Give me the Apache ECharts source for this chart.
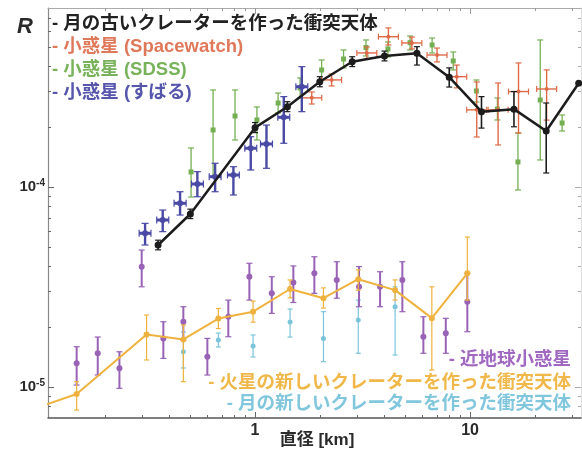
<!DOCTYPE html>
<html><head><meta charset="utf-8">
<script src="https://cdn.jsdelivr.net/npm/echarts@6/dist/echarts.min.js"></script>
<style>html,body{margin:0;padding:0;background:#fff}#c{width:582px;height:455px}</style>
</head><body><div id="c"></div>
<script>
// ---- axis ranges / ticks ----
const X_MIN = 0.1089, X_MAX = 32.8, Y_MIN = 7.0e-6, Y_MAX = 7.85e-4;
const xMajorTicks = [1, 10];
const xMinorTicks = [0.2,0.3,0.4,0.5,0.6,0.7,0.8,0.9, 2,3,4,5,6,7,8,9, 20,30];
const yMajorTicks = [1e-5, 1e-4];
const yMinorTicks = [8e-6,9e-6, 2e-5,3e-5,4e-5,5e-5,6e-5,7e-5,8e-5,9e-5, 2e-4,3e-4,4e-4,5e-4,6e-4,7e-4];
const xTickLabels = ['1', '10'];
const yTickLabels = ['-5', '-4'];

// ---- 月の古いクレーターを作った衝突天体 (black) ----
const oldLunarX  = [0.354, 0.5, 1, 1.414, 2, 2.83, 4, 5.66, 8, 11.3, 16, 22.6, 32];
const oldLunarY  = [5.13e-5, 7.33e-5, 1.98e-4, 2.52e-4, 3.36e-4, 4.23e-4, 4.52e-4, 4.66e-4, 3.54e-4, 2.38e-4, 2.45e-4, 1.905e-4, 3.3e-4];
const oldLunarLo = [4.85e-5, 6.95e-5, 1.87e-4, 2.38e-4, 3.17e-4, 4.0e-4, 4.27e-4, 4.07e-4, 3.16e-4, 1.97e-4, 2.0e-4, 1.175e-4, 3.3e-4];
const oldLunarHi = [5.42e-5, 7.75e-5, 2.1e-4, 2.67e-4, 3.56e-4, 4.48e-4, 4.78e-4, 5.03e-4, 3.94e-4, 2.83e-4, 3.0e-4, 2.63e-4, 3.3e-4];

// ---- 小惑星 (Spacewatch) ----
const swX   = [1.835, 2.27, 3.31, 4.17, 5.36, 7.02, 8.67, 10.74, 13.5, 16.8, 22.7];
const swY   = [2.79e-4, 3.43e-4, 4.68e-4, 5.64e-4, 5.25e-4, 4.57e-4, 3.56e-4, 2.43e-4, 2.43e-4, 3.0e-4, 3.09e-4];
const swLo  = [2.6e-4, 3.2e-4, 4.365e-4, 5.13e-4, 4.9e-4, 4.22e-4, 3.13e-4, 1.778e-4, 1.622e-4, 1.862e-4, 2.16e-4];
const swHi  = [2.985e-4, 3.67e-4, 5.01e-4, 6.24e-4, 5.62e-4, 4.95e-4, 4.07e-4, 3.35e-4, 3.31e-4, 4.17e-4, 3.85e-4];
const swXLo = [1.649, 2.04, 2.974, 3.747, 4.816, 6.307, 7.79, 9.65, 12.13, 15.09, 20.4];
const swXHi = [2.042, 2.527, 3.684, 4.641, 5.966, 7.813, 9.65, 11.95, 15.03, 18.7, 25.27];

// ---- 小惑星 (SDSS) ----
const sdssX  = [0.504, 0.638, 0.807, 1.02, 1.28, 1.62, 2.04, 2.58, 3.28, 4.15, 5.26, 6.66, 8.35, 10.7, 13.4, 16.7, 21.2, 26.8];
const sdssY  = [1.189e-4, 1.928e-4, 2.265e-4, 2.163e-4, 2.63e-4, 3.126e-4, 3.846e-4, 4.365e-4, 4.983e-4, 4.898e-4, 5.267e-4, 5.129e-4, 4.266e-4, 3.02e-4, 2.455e-4, 1.334e-4, 2.723e-4, 2.089e-4];
const sdssLo = [8.91e-5, 1.122e-4, 1.718e-4, 1.718e-4, 2.344e-4, 2.786e-4, 3.428e-4, 3.936e-4, 4.519e-4, 4.467e-4, 4.842e-4, 4.677e-4, 3.846e-4, 2.661e-4, 2.163e-4, 9.66e-5, 1.365e-4, 1.905e-4];
const sdssHi = [1.567e-4, 3.055e-4, 3.055e-4, 2.512e-4, 2.95e-4, 3.508e-4, 4.315e-4, 4.842e-4, 5.433e-4, 5.309e-4, 5.689e-4, 5.559e-4, 4.732e-4, 3.428e-4, 2.786e-4, 1.862e-4, 5.433e-4, 2.291e-4];

// ---- 小惑星 (すばる) ----
const subX   = [0.308, 0.372, 0.448, 0.539, 0.652, 0.793, 0.955, 1.13, 1.36, 1.65];
const subY   = [5.87e-5, 6.84e-5, 8.29e-5, 1.035e-4, 1.126e-4, 1.148e-4, 1.562e-4, 1.641e-4, 2.23e-4, 3.17e-4];
const subLo  = [5.13e-5, 5.98e-5, 7.24e-5, 8.94e-5, 9.47e-5, 9.12e-5, 1.216e-4, 1.24e-4, 1.654e-4, 2.38e-4];
const subHi  = [6.58e-5, 7.67e-5, 9.47e-5, 1.193e-4, 1.314e-4, 1.263e-4, 1.784e-4, 2.04e-4, 2.83e-4, 3.995e-4];
const subXLo = [0.289, 0.349, 0.420, 0.506, 0.612, 0.744, 0.896, 1.06, 1.276, 1.548];
const subXHi = [0.328, 0.397, 0.478, 0.575, 0.695, 0.845, 1.018, 1.205, 1.45, 1.759];

// ---- 近地球小惑星 ----
const neaX  = [0.148, 0.1855, 0.234, 0.297, 0.3745, 0.464, 0.600, 0.751, 0.941, 1.196, 1.507, 1.887, 2.399, 3.045, 3.815, 4.843, 6.065, 7.71, 9.71];
const neaY  = [1.314e-5, 1.475e-5, 1.24e-5, 3.995e-5, 1.75e-5, 2.12e-5, 1.417e-5, 2.245e-5, 3.56e-5, 2.94e-5, 3.33e-5, 3.70e-5, 3.43e-5, 3.17e-5, 3.17e-5, 3.43e-5, 1.784e-5, 1.855e-5, 2.67e-5];
const neaLo = [1.023e-5, 1.148e-5, 9.85e-6, 3.17e-5, 1.39e-5, 1.718e-5, 1.148e-5, 1.784e-5, 2.72e-5, 2.335e-5, 2.646e-5, 2.94e-5, 2.78e-5, 2.52e-5, 2.52e-5, 2.38e-5, 1.475e-5, 1.475e-5, 1.89e-5];
const neaHi = [1.59e-5, 1.778e-5, 1.50e-5, 4.84e-5, 2.12e-5, 2.52e-5, 1.75e-5, 2.72e-5, 4.155e-5, 3.56e-5, 4.03e-5, 4.48e-5, 4.23e-5, 4.0e-5, 3.77e-5, 4.23e-5, 2.245e-5, 2.205e-5, 3.70e-5];

// ---- 火星の新しいクレーターを作った衝突天体 ----
const marsX  = [0.102, 0.148, 0.313, 0.464, 0.675, 0.979, 1.455, 2.08, 3.02, 4.48, 6.64, 9.71];
const marsY  = [8.04e-6, 9.23e-6, 1.83e-5, 1.73e-5, 2.20e-5, 2.38e-5, 3.09e-5, 2.78e-5, 3.46e-5, 3.05e-5, 2.21e-5, 3.70e-5];
const marsLo = [8.04e-6, 7.67e-6, 1.365e-5, 1.063e-5, 1.96e-5, 2.11e-5, 2.79e-5, 2.48e-5, 3.05e-5, 2.72e-5, 1.216e-5, 2.72e-5];
const marsHi = [8.04e-6, 1.063e-5, 2.29e-5, 2.04e-5, 2.47e-5, 2.69e-5, 3.43e-5, 3.13e-5, 3.85e-5, 3.43e-5, 3.17e-5, 5.62e-5];

// ---- 月の新しいクレーターを作った衝突天体 ----
const lunarNewX  = [0.464, 0.675, 0.979, 1.455, 2.08, 3.02, 4.48];
const lunarNewY  = [1.50e-5, 1.718e-5, 1.603e-5, 2.113e-5, 1.75e-5, 2.163e-5, 2.52e-5];
const lunarNewLo = [1.245e-5, 1.585e-5, 1.413e-5, 1.778e-5, 1.338e-5, 1.475e-5, 1.445e-5];
const lunarNewHi = [1.884e-5, 1.862e-5, 1.82e-5, 2.455e-5, 2.38e-5, 2.72e-5, 3.17e-5];

// ---- colours ----
const C = {
  black: '#1c1c1c', sw: '#df6a48', sdss: '#74b052', sub: '#4a4aa6',
  nea: '#9862b6', mars: '#efb23e', lunarNew: '#7cc4da'
};
const FONT = '"Liberation Sans", "Noto Sans CJK JP", sans-serif';

function zip(...arrs) { return arrs[0].map((_, i) => arrs.map(a => a[i])); }

function makeErr(color, o) {
  return function (params, api) {
    const x = api.value(0), y = api.value(1), lo = api.value(2), hi = api.value(3);
    const c = api.coord([x, y]);
    const a = api.coord([x, lo]), b = api.coord([x, hi]);
    const st = { stroke: color, lineWidth: o.lw };
    const ch = [];
    if (Math.abs(a[1] - b[1]) > 1) {
      ch.push({ type: 'line', shape: { x1: c[0], y1: a[1], x2: c[0], y2: b[1] }, style: st });
      ch.push({ type: 'line', shape: { x1: c[0] - o.cap, y1: a[1], x2: c[0] + o.cap, y2: a[1] }, style: { stroke: color, lineWidth: o.capw || 1.2 } });
      ch.push({ type: 'line', shape: { x1: c[0] - o.cap, y1: b[1], x2: c[0] + o.cap, y2: b[1] }, style: { stroke: color, lineWidth: o.capw || 1.2 } });
    }
    if (o.cross) {
      const l = api.coord([api.value(4), y]), r = api.coord([api.value(5), y]);
      ch.push({ type: 'line', shape: { x1: l[0], y1: c[1], x2: r[0], y2: c[1] }, style: { stroke: color, lineWidth: o.hlw || o.lw } });
      ch.push({ type: 'line', shape: { x1: l[0], y1: c[1] - o.cap, x2: l[0], y2: c[1] + o.cap }, style: { stroke: color, lineWidth: o.capw || 1.2 } });
      ch.push({ type: 'line', shape: { x1: r[0], y1: c[1] - o.cap, x2: r[0], y2: c[1] + o.cap }, style: { stroke: color, lineWidth: o.capw || 1.2 } });
    }
    if (o.r) ch.push({ type: o.square ? 'rect' : 'circle',
      shape: o.square ? { x: c[0] - o.r, y: c[1] - o.r, width: 2 * o.r, height: 2 * o.r } : { cx: c[0], cy: c[1], r: o.r },
      style: { fill: o.fill || color } });
    return { type: 'group', children: ch };
  };
}
function errSeries(name, data, color, o) {
  return { name, type: 'custom', xAxisIndex: 0, yAxisIndex: 0, clip: true,
    renderItem: makeErr(color, o), data, encode: { x: 0, y: 1 }, z: o.z || 2, silent: true };
}

const LX0 = Math.log10(X_MIN), LX1 = Math.log10(X_MAX), LY0 = Math.log10(Y_MIN), LY1 = Math.log10(Y_MAX);
const lg = v => Math.log10(v);

function tickAxis(kind, pos, vals, len, opts) {
  const isX = kind === 'x';
  const ax = {
    type: 'value', position: pos, min: isX ? LX0 : LY0, max: isX ? LX1 : LY1,
    axisLine: { show: !!opts.line, onZero: false, lineStyle: { color: opts.line || '#888', width: opts.lineW || 1 } },
    axisTick: { show: true, inside: true, length: len, customValues: vals.map(lg), lineStyle: { color: opts.tickColor || '#666', width: 1 } },
    axisLabel: { show: false }, splitLine: { show: false }, silent: true
  };
  if (opts.labels) {
    ax.axisLabel = { show: true, customValues: vals.map(lg), margin: opts.margin, formatter: opts.formatter,
      color: '#2a2a2a', fontFamily: FONT, fontWeight: 'bold', fontSize: 16, rich: opts.rich };
  }
  return ax;
}

const chart = echarts.init(document.getElementById('c'));
chart.setOption({
  animation: false,
  backgroundColor: '#fff',
  grid: { left: 48, right: 1, top: 8, bottom: 37, containLabel: false },
  xAxis: [
    { type: 'log', logBase: 10, min: X_MIN, max: X_MAX, show: false },
    tickAxis('x', 'bottom', xMinorTicks, 3, { line: '#555', lineW: 1.5 }),
    tickAxis('x', 'bottom', xMajorTicks, 6, { labels: true, margin: 5, formatter: v => xTickLabels[xMajorTicks.findIndex(t => Math.abs(lg(t) - v) < 1e-6)] }),
    tickAxis('x', 'top', xMinorTicks, 3, { line: '#aaa', tickColor: '#999' }),
    tickAxis('x', 'top', xMajorTicks, 6, { tickColor: '#999' })
  ],
  yAxis: [
    { type: 'log', logBase: 10, min: Y_MIN, max: Y_MAX, show: false },
    tickAxis('y', 'left', yMinorTicks, 3, { line: '#888', lineW: 1.2 }),
    tickAxis('y', 'left', yMajorTicks, 6, { labels: true, margin: 3,
      formatter: v => '{b|10}{s|' + yTickLabels[yMajorTicks.findIndex(t => Math.abs(lg(t) - v) < 1e-6)] + '}',
      rich: { b: { fontSize: 15, fontWeight: 'bold', fontFamily: FONT, color: '#2a2a2a' },
              s: { fontSize: 10, fontWeight: 'bold', fontFamily: FONT, color: '#2a2a2a', verticalAlign: 'top', padding: [0, 0, 7, 0] } } }),
    tickAxis('y', 'right', yMinorTicks, 3, { line: '#ddd', tickColor: '#aaa' }),
    tickAxis('y', 'right', yMajorTicks, 6, { tickColor: '#aaa' })
  ],
  series: [
    errSeries('月の新しいクレーターを作った衝突天体', zip(lunarNewX, lunarNewY, lunarNewLo, lunarNewHi), C.lunarNew, { lw: 1.2, cap: 2.5, r: 2.5, z: 2 }),
    errSeries('近地球小惑星', zip(neaX, neaY, neaLo, neaHi), C.nea, { lw: 2, cap: 3, r: 3, z: 3 }),
    errSeries('火星の新しいクレーターを作った衝突天体 err', zip(marsX, marsY, marsLo, marsHi), C.mars, { lw: 1.2, cap: 2.5, z: 4 }),
    { name: '火星の新しいクレーターを作った衝突天体', type: 'line', xAxisIndex: 0, yAxisIndex: 0, data: zip(marsX, marsY),
      lineStyle: { color: C.mars, width: 2 }, itemStyle: { color: C.mars }, symbol: 'circle', symbolSize: 6, clip: true, z: 5, silent: true },
    errSeries('小惑星 (SDSS)', zip(sdssX, sdssY, sdssLo, sdssHi), C.sdss, { lw: 1.3, cap: 3, r: 2.5, square: true, z: 6 }),
    errSeries('小惑星 (Spacewatch)', zip(swX, swY, swLo, swHi, swXLo, swXHi), C.sw, { lw: 1.4, cap: 3, r: 2, cross: true, z: 7 }),
    errSeries('小惑星 (すばる)', zip(subX, subY, subLo, subHi, subXLo, subXHi), C.sub, { lw: 2.4, hlw: 3, cap: 3.5, r: 3, cross: true, z: 8 }),
    errSeries('月の古いクレーターを作った衝突天体 err', zip(oldLunarX, oldLunarY, oldLunarLo, oldLunarHi), C.black, { lw: 1.6, cap: 3, z: 9 }),
    { name: '月の古いクレーターを作った衝突天体', type: 'line', xAxisIndex: 0, yAxisIndex: 0, data: zip(oldLunarX, oldLunarY),
      lineStyle: { color: C.black, width: 2.5 }, itemStyle: { color: C.black }, symbol: 'circle', symbolSize: 7, clip: true, z: 10, silent: true }
  ],
  graphic: [
    { type: 'text', x: 25, y: 27, z: 20, style: { text: 'R', fill: '#2a2a2a', fontSize: 22, fontWeight: 'bold', fontStyle: 'italic', fontFamily: FONT, align: 'center', verticalAlign: 'middle' } },
    { type: 'text', x: 52, y: 24, z: 20, style: { text: '- 月の古いクレーターを作った衝突天体', fill: '#222', fontSize: 18.5, fontWeight: 'bold', fontFamily: FONT, align: 'left', verticalAlign: 'middle' } },
    { type: 'text', x: 52, y: 47, z: 20, style: { text: '- 小惑星 (Spacewatch)', fill: '#e0785a', fontSize: 18.5, fontWeight: 'bold', fontFamily: FONT, align: 'left', verticalAlign: 'middle' } },
    { type: 'text', x: 52, y: 70, z: 20, style: { text: '- 小惑星 (SDSS)', fill: '#78b25a', fontSize: 18.5, fontWeight: 'bold', fontFamily: FONT, align: 'left', verticalAlign: 'middle' } },
    { type: 'text', x: 52, y: 93, z: 20, style: { text: '- 小惑星 (すばる)', fill: '#5656ac', fontSize: 18.5, fontWeight: 'bold', fontFamily: FONT, align: 'left', verticalAlign: 'middle' } },
    { type: 'text', x: 571, y: 360, z: 20, style: { text: '- 近地球小惑星', fill: '#a068c0', fontSize: 18.5, fontWeight: 'bold', fontFamily: FONT, align: 'right', verticalAlign: 'middle' } },
    { type: 'text', x: 571, y: 383, z: 20, style: { text: '- 火星の新しいクレーターを作った衝突天体', fill: '#f0b84a', fontSize: 18.5, fontWeight: 'bold', fontFamily: FONT, align: 'right', verticalAlign: 'middle' } },
    { type: 'text', x: 571, y: 404, z: 20, style: { text: '- 月の新しいクレーターを作った衝突天体', fill: '#80c6dc', fontSize: 18.5, fontWeight: 'bold', fontFamily: FONT, align: 'right', verticalAlign: 'middle' } },
    { type: 'text', x: 317, y: 440, z: 20, style: { text: '直径 [km]', fill: '#2a2a2a', fontSize: 17, fontWeight: 'bold', fontFamily: FONT, align: 'center', verticalAlign: 'middle' } }
  ]
});
</script>
</body></html>
